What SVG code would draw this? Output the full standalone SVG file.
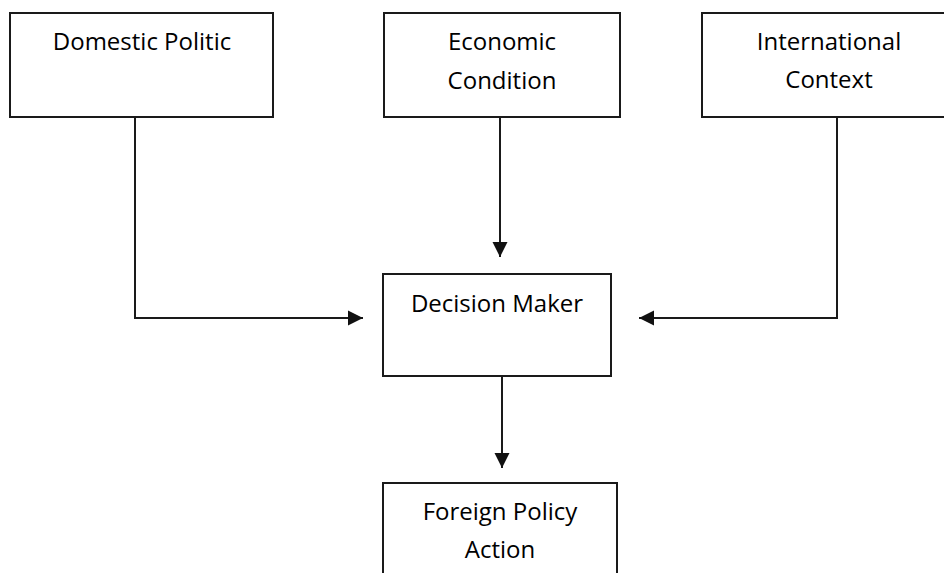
<svg xmlns="http://www.w3.org/2000/svg" width="944" height="573" viewBox="0 0 944 573">
<style>
.box{fill:#fff;stroke:#1a1a1a;stroke-width:2}
.lbl{font-family:"Open Sans","Liberation Sans",sans-serif;font-size:24px;fill:#000;text-anchor:middle}
.con{fill:none;stroke:#1a1a1a;stroke-width:2}
</style>
<defs>
<marker id="ah" markerUnits="userSpaceOnUse" markerWidth="16" markerHeight="16" viewBox="0 0 16 16" refX="15" refY="8" orient="auto">
<path d="M0,0.5 L15,8 L0,15.5 Z" fill="#111"/>
</marker>
</defs>
<rect width="944" height="573" fill="#fff"/>
<g id="connectors">
<path class="con" d="M135,117 V318 H363" marker-end="url(#ah)"/>
<path class="con" d="M500,117 V257" marker-end="url(#ah)"/>
<path class="con" d="M837,117 V318 H639" marker-end="url(#ah)"/>
<path class="con" d="M502,376 V468" marker-end="url(#ah)"/>
</g>
<g id="domestic">
<rect class="box" x="10" y="13" width="263" height="104"/>
<text class="lbl" x="142" y="50">Domestic Politic</text>
</g>
<g id="economic">
<rect class="box" x="384" y="13" width="236" height="104"/>
<text class="lbl" x="502" y="50">Economic</text>
<text class="lbl" x="502" y="89">Condition</text>
</g>
<g id="international">
<rect class="box" x="702" y="13" width="260" height="104"/>
<text class="lbl" x="829" y="50">International</text>
<text class="lbl" x="829" y="88">Context</text>
</g>
<g id="decision">
<rect class="box" x="383" y="274" width="228" height="102"/>
<text class="lbl" x="497" y="312">Decision Maker</text>
</g>
<g id="foreign">
<rect class="box" x="383" y="483" width="234" height="110"/>
<text class="lbl" x="500" y="520">Foreign Policy</text>
<text class="lbl" x="500" y="558">Action</text>
</g>
</svg>
